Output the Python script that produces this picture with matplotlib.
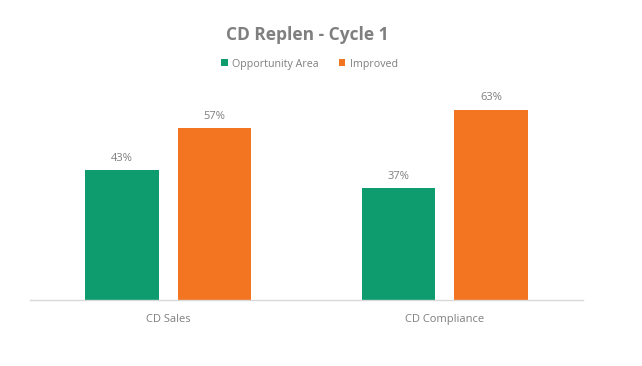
import matplotlib
matplotlib.use("Agg")
import matplotlib.pyplot as plt
import numpy as np

categories = ["CD Sales", "CD Compliance"]
opportunity = [43, 37]
improved = [57, 63]
series_names = ["Opportunity Area", "Improved"]

GREEN = "#0E9C6E"
ORANGE = "#F47521"
GREY = "#7F7F7F"

plt.rcParams["font.family"] = ["Open Sans", "DejaVu Sans"]

fig = plt.figure(figsize=(6.42, 3.66), dpi=100)
ax = fig.add_axes([0.047, 0.180, 0.861, 0.577])

x = np.arange(len(categories))
w = 0.265
off = 0.1675
b1 = ax.bar(x - off, opportunity, w, color=GREEN, label=series_names[0])
b2 = ax.bar(x + off, improved, w, color=ORANGE, label=series_names[1])

for bars, vals in ((b1, opportunity), (b2, improved)):
    for r, v in zip(bars, vals):
        ax.text(r.get_x() + r.get_width() / 2, v + 2.2, f"{v}%",
                ha="center", va="bottom", fontsize=8, color=GREY)

ax.set_xlim(-0.5, 1.5)
ax.set_ylim(0, 70)
ax.set_xticks(x)
ax.set_xticklabels(categories, fontsize=8, color=GREY)
ax.tick_params(axis="x", length=0, pad=10)
ax.set_yticks([])
for s in ("top", "right", "left"):
    ax.spines[s].set_visible(False)
ax.spines["bottom"].set_color("#D9D9D9")
ax.spines["bottom"].set_linewidth(1.0)

fig.text(0.478, 0.905, "CD Replen - Cycle 1", ha="center", va="center",
         fontsize=12.5, fontweight="bold", color=GREY)
fig.legend(handles=[b1, b2], labels=series_names, loc="center",
           bbox_to_anchor=(0.482, 0.825), ncol=2, frameon=False,
           fontsize=7.7, handlelength=0.6, handleheight=0.6, handletextpad=0.4,
           columnspacing=1.9, labelcolor=GREY)

fig.savefig("out.png", dpi=100, facecolor="white")
